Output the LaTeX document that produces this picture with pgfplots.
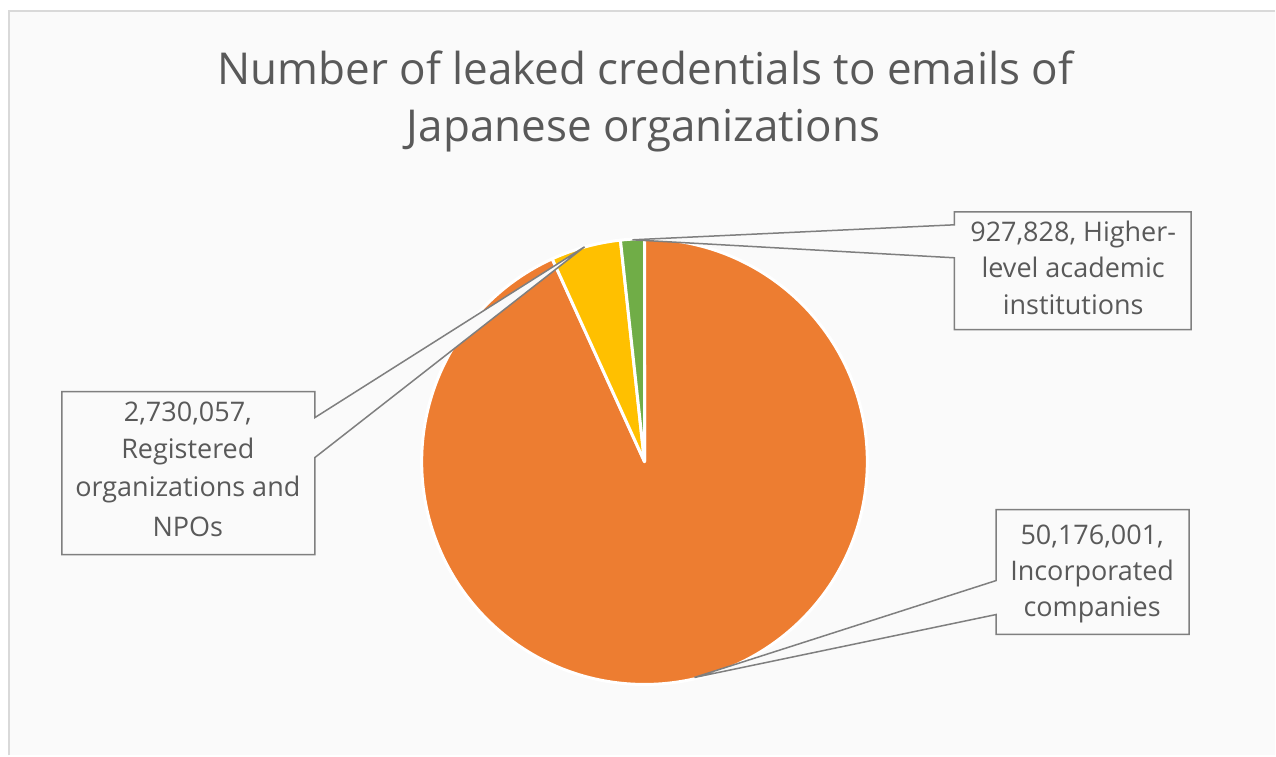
\documentclass[border=0pt]{standalone}
\usepackage{pgfplots}
\usepackage{pgfplotstable}
\pgfplotsset{compat=1.18}
\usepackage{fontspec}
\setmainfont{Open Sans}
\definecolor{orangeC}{HTML}{ED7D31}
\definecolor{yellowC}{HTML}{FFC000}
\definecolor{greenC}{HTML}{70AD47}
\definecolor{txt}{HTML}{595959}
\definecolor{boxline}{HTML}{7F7F7F}
\definecolor{bg}{HTML}{FAFAFA}
\definecolor{frame}{HTML}{D9D9D9}
\begin{document}
\pgfplotstableread{
value
50176001
2730057
927828
}\piedata
\pgfplotstablegetelem{0}{value}\of\piedata\edef\vA{\pgfplotsretval}%
\pgfplotstablegetelem{1}{value}\of\piedata\edef\vB{\pgfplotsretval}%
\pgfplotstablegetelem{2}{value}\of\piedata\edef\vC{\pgfplotsretval}%
\edef\tot{\fpeval{\vA+\vB+\vC}}%
\edef\aB{\fpeval{90-360*\vA/\tot}}%
\edef\aC{\fpeval{\aB-360*\vB/\tot}}%
\edef\aD{\fpeval{\aC-360*\vC/\tot}}%
\edef\xB{\fpeval{645+223*cosd(\aB)}}\edef\yB{\fpeval{294+223*sind(\aB)}}%
\edef\xC{\fpeval{645+223*cosd(\aC)}}\edef\yC{\fpeval{294+223*sind(\aC)}}%
\begin{tikzpicture}
\begin{axis}[
  x=1pt, y=1pt,
  xmin=0, xmax=1276, ymin=0, ymax=756,
  hide axis, clip=false,
]
% background and frame
\fill[white] (axis cs:0,0) rectangle (axis cs:1276,756);
\fill[bg] (axis cs:9,0) rectangle (axis cs:1276,745);
\draw[frame, line width=2pt] (axis cs:9,0) -- (axis cs:9,745) -- (axis cs:1276,745);
% title
\node[anchor=base, text=txt, font=\fontsize{44}{52}\selectfont] at (axis cs:646,671) {Number of leaked credentials to emails of};
\node[anchor=base, text=txt, font=\fontsize{44}{52}\selectfont] at (axis cs:644,614) {Japanese organizations};
% pie slices
\filldraw[fill=orangeC, draw=white, line width=3pt, line join=round] (axis cs:645,294) -- (axis cs:645,517) arc[start angle=90, end angle=\aB, radius=223pt] -- cycle;
\filldraw[fill=yellowC, draw=white, line width=3pt, line join=round] (axis cs:645,294) -- (axis cs:\xB,\yB) arc[start angle=\aB, end angle=\aC, radius=223pt] -- cycle;
\filldraw[fill=greenC, draw=white, line width=3pt, line join=round] (axis cs:645,294) -- (axis cs:\xC,\yC) arc[start angle=\aC, end angle=\aD, radius=223pt] -- cycle;
% callouts
\filldraw[fill=bg, draw=boxline, line width=1.5pt, line join=miter]
  (axis cs:955,544) -- (axis cs:1192,544) -- (axis cs:1192,426) -- (axis cs:955,426) -- (axis cs:955,498) -- (axis cs:633,516) -- (axis cs:955,531) -- cycle;
\filldraw[fill=bg, draw=boxline, line width=1.5pt, line join=miter]
  (axis cs:62,364) -- (axis cs:315,364) -- (axis cs:315,338) -- (axis cs:585,509) -- (axis cs:315,298) -- (axis cs:315,201) -- (axis cs:62,201) -- cycle;
\filldraw[fill=bg, draw=boxline, line width=1.5pt, line join=miter]
  (axis cs:997,246) -- (axis cs:1190,246) -- (axis cs:1190,121) -- (axis cs:997,121) -- (axis cs:997,141) -- (axis cs:695,78) -- (axis cs:997,175) -- cycle;
% label texts
\begin{scope}[every node/.style={anchor=base, text=txt, font=\fontsize{27}{33}\selectfont}]
\node at (axis cs:1074,514) {927,828, Higher-};
\node at (axis cs:1074,478) {level academic};
\node at (axis cs:1074,441) {institutions};
\node at (axis cs:188,334) {2,730,057,};
\node at (axis cs:188,297) {Registered};
\node at (axis cs:188,259) {organizations and};
\node at (axis cs:188,219) {NPOs};
\node at (axis cs:1093,211) {50,176,001,};
\node at (axis cs:1093,175) {Incorporated};
\node at (axis cs:1093,139) {companies};
\end{scope}
\end{axis}
\end{tikzpicture}
\end{document}
